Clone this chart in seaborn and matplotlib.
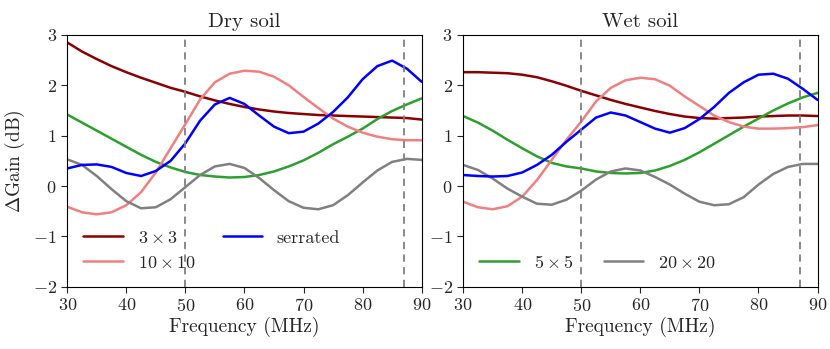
import numpy as np
import pandas as pd
import matplotlib
matplotlib.use("Agg")
import matplotlib.pyplot as plt
import seaborn as sns

# frequency grid (MHz) and Delta Gain (dB)
freq = [30, 32.5, 35, 37.5, 40, 42.5, 45, 47.5, 50, 52.5, 55, 57.5, 60,
        62.5, 65, 67.5, 70, 72.5, 75, 77.5, 80, 82.5, 85, 87.5, 90]

dry_3x3 = [2.85, 2.67, 2.52, 2.38, 2.26, 2.15, 2.05, 1.95, 1.87, 1.78, 1.70, 1.63, 1.57,
           1.52, 1.48, 1.45, 1.43, 1.41, 1.40, 1.39, 1.38, 1.37, 1.36, 1.35, 1.32]
dry_10x10 = [-0.41, -0.52, -0.56, -0.52, -0.38, -0.12, 0.27, 0.75, 1.23, 1.72, 2.06, 2.23, 2.29,
             2.27, 2.17, 2.00, 1.77, 1.55, 1.34, 1.18, 1.06, 0.98, 0.93, 0.91, 0.91]
dry_serrated = [0.35, 0.42, 0.43, 0.38, 0.26, 0.20, 0.30, 0.50, 0.85, 1.30, 1.62, 1.75, 1.63,
                1.40, 1.18, 1.05, 1.08, 1.24, 1.47, 1.76, 2.12, 2.38, 2.49, 2.33, 2.07]
dry_5x5 = [1.42, 1.26, 1.10, 0.94, 0.78, 0.62, 0.48, 0.37, 0.28, 0.22, 0.19, 0.17, 0.18,
           0.22, 0.29, 0.39, 0.51, 0.66, 0.83, 0.98, 1.14, 1.33, 1.49, 1.62, 1.74]
dry_20x20 = [0.53, 0.42, 0.20, -0.06, -0.30, -0.44, -0.42, -0.26, -0.02, 0.22, 0.39, 0.44, 0.36,
             0.16, -0.08, -0.30, -0.43, -0.46, -0.38, -0.18, 0.07, 0.31, 0.48, 0.54, 0.52]

wet_3x3 = [2.26, 2.26, 2.25, 2.24, 2.21, 2.16, 2.08, 1.99, 1.89, 1.80, 1.71, 1.63, 1.56,
           1.49, 1.43, 1.38, 1.35, 1.34, 1.35, 1.36, 1.38, 1.39, 1.40, 1.40, 1.39]
wet_10x10 = [-0.31, -0.42, -0.46, -0.40, -0.21, 0.12, 0.52, 0.92, 1.28, 1.68, 1.95, 2.10, 2.15,
             2.12, 1.99, 1.78, 1.59, 1.40, 1.27, 1.18, 1.14, 1.14, 1.15, 1.17, 1.21]
wet_serrated = [0.22, 0.20, 0.19, 0.20, 0.27, 0.42, 0.62, 0.88, 1.12, 1.36, 1.46, 1.40, 1.27,
                1.14, 1.06, 1.15, 1.33, 1.57, 1.85, 2.06, 2.21, 2.23, 2.13, 1.93, 1.71]
wet_5x5 = [1.39, 1.26, 1.10, 0.92, 0.75, 0.59, 0.46, 0.39, 0.35, 0.29, 0.26, 0.25, 0.26,
           0.31, 0.40, 0.52, 0.67, 0.84, 1.01, 1.18, 1.34, 1.50, 1.64, 1.76, 1.85]
wet_20x20 = [0.42, 0.32, 0.15, -0.05, -0.21, -0.35, -0.37, -0.27, -0.09, 0.13, 0.29, 0.35, 0.31,
             0.18, 0.03, -0.15, -0.31, -0.38, -0.36, -0.22, 0.03, 0.24, 0.38, 0.44, 0.44]

labels = [r"$3\times3$", r"$5\times5$", r"$10\times10$", r"$20\times20$", "serrated"]
colors = ["darkred", "tab:green", "lightcoral", "gray", "blue"]
band_edges = [50, 87]

dry = [dry_3x3, dry_5x5, dry_10x10, dry_20x20, dry_serrated]
wet = [wet_3x3, wet_5x5, wet_10x10, wet_20x20, wet_serrated]

sns.set_style("ticks")
plt.rcParams["font.family"] = "serif"
plt.rcParams["font.serif"] = ["cmr10", "DejaVu Serif"]
plt.rcParams["mathtext.fontset"] = "cm"
plt.rcParams["axes.formatter.use_mathtext"] = True
plt.rcParams["axes.unicode_minus"] = True

fig = plt.figure(figsize=(8.3, 3.49), dpi=100)
ax1 = fig.add_axes([0.081, 0.178, 0.427, 0.722])
ax2 = fig.add_axes([0.558, 0.178, 0.427, 0.722])

for ax, data, title in [(ax1, dry, "Dry soil"), (ax2, wet, "Wet soil")]:
    for vals, lab, col in zip(data, labels, colors):
        df = pd.DataFrame({"freq": freq, "gain": vals})
        sns.lineplot(data=df, x="freq", y="gain", ax=ax, color=col, lw=1.8, label=lab)
    for f in band_edges:
        ax.axvline(f, color="gray", ls="--", lw=1.3, dashes=(4, 3))
    ax.set_xlim(30, 90)
    ax.set_ylim(-2, 3)
    ax.set_xticks([30, 40, 50, 60, 70, 80, 90])
    ax.set_yticks([-2, -1, 0, 1, 2, 3])
    ax.tick_params(labelsize=13, length=4)
    ax.set_title(title, fontsize=15, pad=6)
    ax.set_xlabel("Frequency (MHz)", fontsize=14, labelpad=2)
    ax.set_ylabel("")
    for s in ax.spines.values():
        s.set_visible(True)
        s.set_color("black")

ax1.set_ylabel(r"$\Delta$Gain (dB)", fontsize=14, labelpad=4)

h1, l1 = ax1.get_legend_handles_labels()
ax1.legend([h1[0], h1[2], h1[4]], [l1[0], l1[2], l1[4]], ncol=2, loc="lower left",
           frameon=False, fontsize=13, bbox_to_anchor=(0.0, 0.0), columnspacing=1.5,
           handlelength=2.2)
h2, l2 = ax2.get_legend_handles_labels()
ax2.legend([h2[1], h2[3]], [l2[1], l2[3]], ncol=2, loc="lower left",
           frameon=False, fontsize=13, bbox_to_anchor=(0.0, 0.0), columnspacing=1.7,
           handlelength=2.2)

fig.savefig("out.png", dpi=100)
